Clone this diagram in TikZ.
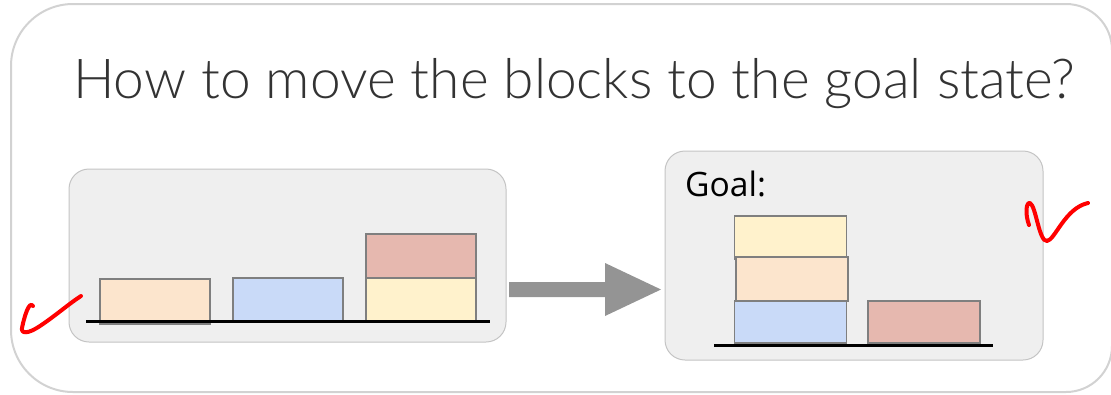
\documentclass[tikz,border=0pt]{standalone}
\usepackage{fontspec}
\usepackage{graphicx}
\setmainfont{Open Sans}
\newfontfamily\titlefont{Lato Light}
\newfontfamily\labelfont{Open Sans}
\definecolor{framegray}{HTML}{D2D2D2}
\definecolor{panelfill}{HTML}{EFEFEF}
\definecolor{panelline}{HTML}{C4C4C4}
\definecolor{blockline}{HTML}{7F7F7F}
\definecolor{peach}{HTML}{FCE5CD}
\definecolor{skyblue}{HTML}{C9DAF8}
\definecolor{cream}{HTML}{FFF2CC}
\definecolor{rose}{HTML}{E6B8AF}
\definecolor{arrowgray}{HTML}{949494}
\definecolor{titlegray}{HTML}{333333}
\definecolor{inkred}{HTML}{FF0000}
\begin{document}
\begin{tikzpicture}[x=1pt,y=-1pt,
  panel/.style={draw=panelline, line width=1pt, fill=panelfill, rounded corners=20pt,
    rectangle, inner sep=0pt, outer sep=0pt},
  block/.style={draw=blockline, line width=1.6pt, rectangle, inner sep=0pt, outer sep=0pt,
    minimum width=110.5pt},
  ground/.style={draw=black, line width=3pt},
  ink/.style={draw=inkred, line width=4pt, line cap=round, line join=round}]
\useasboundingbox (0,0) rectangle (1111,394);

% outer frame (y axis points down, so angles run clockwise on the page)
\draw[framegray, line width=2pt]
  (11,66) arc[start angle=180, end angle=270, radius=62]
  -- (1066,4) arc[start angle=270, end angle=360, radius=46]
  -- (1112,346) arc[start angle=0, end angle=90, radius=46]
  -- (73,392) arc[start angle=90, end angle=180, radius=62] -- cycle;

% title
\node[anchor=base west, inner sep=0pt, text=titlegray] (title) at (73,98)
  {\resizebox{1002pt}{!}{\titlefont How to move the blocks to the goal state?}};

% panels
\node[panel, minimum width=437pt, minimum height=173pt] (start) at (287.5,255.5) {};
\node[panel, minimum width=378pt, minimum height=209pt] (goal) at (854,255.5) {};

% goal label
\node[anchor=base west, inner sep=0pt, font=\labelfont\fontsize{33.6}{40}\selectfont] (goallabel)
  at (685,196) {Goal:};

% start state
\node[block, fill=peach, minimum height=45pt] (s1) at (155,301.5) {};
\node[block, fill=skyblue, minimum height=43.3pt] (s2) at (288,299.35) {};
\node[block, fill=cream, minimum height=43pt] (s3) at (421,299.5) {};
\node[block, fill=rose, minimum height=44.3pt] (s4) at (421,255.85) {};
\draw[ground] (86,321) -- (490,321);

% goal state
\node[block, fill=cream, minimum width=112pt, minimum height=43pt] (g3) at (790.5,237.5) {};
\node[block, fill=peach, minimum width=112pt, minimum height=44pt] (g1) at (792,279) {};
\node[block, fill=skyblue, minimum width=112pt, minimum height=42pt] (g2) at (790.5,322) {};
\node[block, fill=rose, minimum width=112pt, minimum height=42pt] (g4) at (924,322) {};
\draw[ground] (714,345.5) -- (993,345.5);

% block arrow between the panels
\fill[arrowgray] (509,282) -- (605,282) -- (605,263) -- (661,289.5)
  -- (605,316) -- (605,297) -- (509,297) -- cycle;

% hand-drawn marks
\draw[ink] (33,306) .. controls (29,300) and (24,318) .. (22,328)
  .. controls (21,334) and (28,334) .. (40,326)
  .. controls (55,316) and (70,303) .. (81,296);
\draw[ink] (1029,225) .. controls (1025,214) and (1026,202) .. (1030,203)
  .. controls (1036,206) and (1039,242) .. (1047,241)
  .. controls (1055,240) and (1065,208) .. (1088,203);
\end{tikzpicture}
\end{document}
